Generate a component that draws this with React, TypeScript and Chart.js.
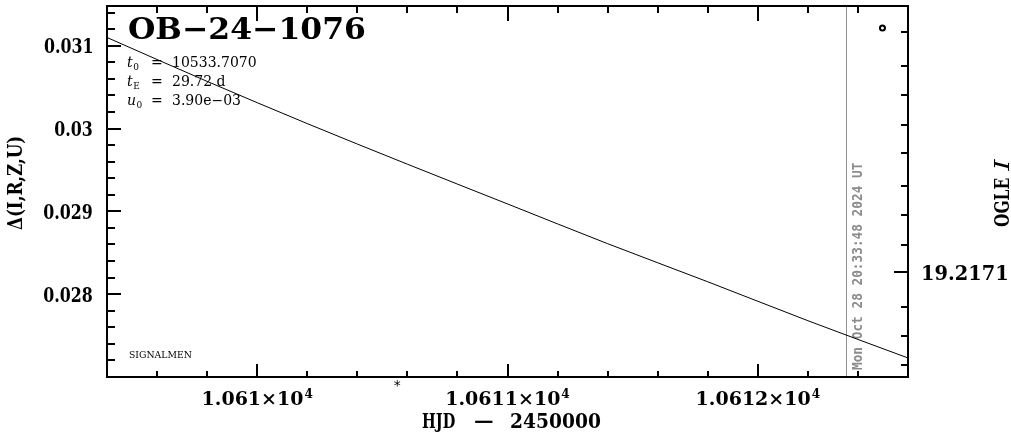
import React, { useEffect, useRef } from "react";
import { Chart, registerables } from "chart.js";

Chart.register(...registerables);

// ---- data ----
const titleText = "OB−24−1076";
const paramSymbols = ["t", "t", "u"];
const paramSubs = ["0", "E", "0"];
const paramValues = ["10533.7070", "29.72 d", "3.90e−03"];
const footerText = "SIGNALMEN";

const modelHJD = [10609.4, 10609.8, 10610.2, 10610.6, 10611.0, 10611.4, 10611.8, 10612.2, 10612.6];
const modelDelta = [0.0311, 0.03057, 0.03006, 0.02957, 0.02909, 0.02861, 0.02815, 0.02768, 0.02723];

const obsHJD = [10612.498];
const obsDelta = [0.031214];

const nowHJD = 10612.354;
const nowLabel = "Mon Oct 28 20:33:48 2024 UT";
const starHJD = [10610.56];

const xMin = 10609.4;
const xMax = 10612.6;
const yMin = 0.027;
const yMax = 0.03148;
const y2Min = 19.2138819;
const y2Max = 19.2183619;

const xTickValues = [10610, 10611, 10612];
const xTickLabels = ["1.061×10", "1.0611×10", "1.0612×10"];
const xTickExponent = "4";
const yTickValues = [0.028, 0.029, 0.03, 0.031];
const yTickLabels = ["0.028", "0.029", "0.03", "0.031"];
const rightTickValues = [
  19.214195, 19.214612, 19.214957, 19.215314, 19.21566, 19.216052,
  19.21641, 19.216767, 19.2171, 19.217517, 19.217862, 19.218219,
];
const rightMajorValue = 19.2171;
const rightMajorLabel = "19.2171";
const xAxisTitleParts = ["HJD", "−", "2450000"];
const yAxisTitle = "Δ(I,R,Z,U)";
const rightAxisTitleParts = ["OGLE", "I"];

const SERIF = "'DejaVu Serif', serif";

type InkOpts = {
  x: number;
  y: number;
  w?: number;
  sx?: number;
  align?: "left" | "center" | "right";
  rot?: number;
  color?: string;
};

function inkScale(ctx: CanvasRenderingContext2D, text: string, font: string, w: number) {
  ctx.save();
  ctx.font = font;
  ctx.textAlign = "left";
  const m = ctx.measureText(text);
  ctx.restore();
  const inkW = m.actualBoundingBoxRight + m.actualBoundingBoxLeft;
  return w / inkW;
}

function drawInk(ctx: CanvasRenderingContext2D, text: string, font: string, o: InkOpts) {
  ctx.save();
  ctx.font = font;
  ctx.textAlign = "left";
  ctx.textBaseline = "alphabetic";
  const m = ctx.measureText(text);
  const l = -m.actualBoundingBoxLeft;
  const r = m.actualBoundingBoxRight;
  const inkW = r - l;
  const sx = o.sx ?? (o.w ? o.w / inkW : 1);
  const W = inkW * sx;
  const align = o.align ?? "left";
  const start = align === "left" ? 0 : align === "center" ? -W / 2 : -W;
  ctx.translate(o.x, o.y);
  if (o.rot) ctx.rotate(o.rot);
  ctx.scale(sx, 1);
  ctx.fillStyle = o.color ?? "#000";
  ctx.fillText(text, start / sx - l, 0);
  ctx.restore();
}

const pgplotPlugin = {
  id: "pgplot",
  beforeDatasetsDraw(chart: any) {
    const ctx: CanvasRenderingContext2D = chart.ctx;
    const { top, bottom } = chart.chartArea;
    const xs = chart.scales.x;
    const px = Math.round(xs.getPixelForValue(nowHJD)) + 0.5;
    ctx.save();
    ctx.strokeStyle = "#909090";
    ctx.lineWidth = 1;
    ctx.beginPath();
    ctx.moveTo(px, top);
    ctx.lineTo(px, bottom);
    ctx.stroke();
    ctx.restore();
    drawInk(ctx, nowLabel, "bold 14px 'DejaVu Sans Mono', monospace", {
      x: px + 15,
      y: 370,
      w: 207,
      align: "left",
      rot: -Math.PI / 2,
      color: "#8c8c8c",
    });
  },
  afterDraw(chart: any) {
    const ctx: CanvasRenderingContext2D = chart.ctx;
    const { left, right, top, bottom } = chart.chartArea;
    const xs = chart.scales.x;
    const ys = chart.scales.y;
    const y2 = chart.scales.y2;

    ctx.save();
    ctx.strokeStyle = "#000";
    ctx.lineWidth = 2;
    ctx.lineCap = "butt";
    ctx.strokeRect(left, top, right - left, bottom - top);

    // x ticks (top & bottom)
    ctx.beginPath();
    for (let k = 53047; k <= 53063; k++) {
      const v = k * 0.2;
      const major = k % 5 === 0;
      const p = Math.round(xs.getPixelForValue(v));
      ctx.moveTo(p, bottom);
      ctx.lineTo(p, bottom - (major ? 13 : 6));
      ctx.moveTo(p, top);
      ctx.lineTo(p, top + (major ? 15 : 7));
    }
    // left ticks
    for (let k = 136; k <= 157; k++) {
      const v = k * 0.0002;
      const major = k % 5 === 0;
      const p = Math.round(ys.getPixelForValue(v));
      ctx.moveTo(left, p);
      ctx.lineTo(left + (major ? 14 : 8), p);
    }
    // right ticks
    rightTickValues.forEach((v) => {
      const p = Math.round(y2.getPixelForValue(v));
      const major = Math.abs(v - rightMajorValue) < 1e-7;
      ctx.moveTo(right, p);
      ctx.lineTo(right - (major ? 14 : 7), p);
    });
    ctx.stroke();
    ctx.restore();

    // left tick labels
    const lf = `bold 20px ${SERIF}`;
    const lsx = inkScale(ctx, "0.031", lf, 48);
    yTickValues.forEach((v, i) => {
      const p = ys.getPixelForValue(v);
      drawInk(ctx, yTickLabels[i], lf, { x: 92, y: p + 7.5, sx: lsx, align: "right" });
    });

    // bottom tick labels
    ctx.save();
    ctx.fillStyle = "#000";
    ctx.textAlign = "left";
    ctx.textBaseline = "alphabetic";
    xTickValues.forEach((v, i) => {
      const p = xs.getPixelForValue(v);
      ctx.font = `bold 19px ${SERIF}`;
      const mW = ctx.measureText(xTickLabels[i]).width;
      ctx.font = `bold 12px ${SERIF}`;
      const sW = ctx.measureText(xTickExponent).width;
      const start = p - (mW + sW + 1) / 2;
      ctx.font = `bold 19px ${SERIF}`;
      ctx.fillText(xTickLabels[i], start, 405);
      ctx.font = `bold 12px ${SERIF}`;
      ctx.fillText(xTickExponent, start + mW + 1, 398);
    });
    ctx.restore();

    // star marker below axis
    ctx.save();
    ctx.font = "14px 'DejaVu Sans', sans-serif";
    const sm = ctx.measureText("*");
    starHJD.forEach((v) => {
      const p = xs.getPixelForValue(v);
      ctx.fillStyle = "#000";
      ctx.textAlign = "center";
      ctx.fillText("*", p, 383 + (sm.actualBoundingBoxAscent - sm.actualBoundingBoxDescent) / 2);
    });
    ctx.restore();

    // axis titles
    const af = `bold 20px ${SERIF}`;
    drawInk(ctx, xAxisTitleParts[0], af, { x: 422, y: 428, w: 33 });
    drawInk(ctx, xAxisTitleParts[1], af, { x: 484, y: 428, w: 18, align: "center" });
    drawInk(ctx, xAxisTitleParts[2], af, { x: 511, y: 428, w: 89 });
    drawInk(ctx, yAxisTitle, af, { x: 22, y: 183.5, w: 93, align: "center", rot: -Math.PI / 2 });
    drawInk(ctx, rightAxisTitleParts[0], af, { x: 1009, y: 227, w: 49, align: "left", rot: -Math.PI / 2 });
    drawInk(ctx, rightAxisTitleParts[1], `italic 20px ${SERIF}`, {
      x: 1009,
      y: 172,
      w: 14,
      align: "left",
      rot: -Math.PI / 2,
    });
    // right label
    const rp = y2.getPixelForValue(rightMajorValue);
    drawInk(ctx, rightMajorLabel, af, { x: 923, y: rp + 7.5, w: 84 });

    // title + parameters
    drawInk(ctx, titleText, `bold 30px ${SERIF}`, { x: 129, y: 39, w: 236 });
    const baselines = [67, 86, 105];
    ctx.save();
    ctx.fillStyle = "#000";
    ctx.textBaseline = "alphabetic";
    ctx.textAlign = "left";
    paramSymbols.forEach((s, i) => {
      const b = baselines[i];
      ctx.font = `italic 14px ${SERIF}`;
      ctx.fillText(s, 127, b);
      const sw = ctx.measureText(s).width;
      ctx.font = `9px ${SERIF}`;
      ctx.fillText(paramSubs[i], 127 + sw + 0.5, b + 3);
      ctx.font = `14px ${SERIF}`;
      ctx.fillText("=", 151, b);
      ctx.fillText(paramValues[i], 172, b);
    });
    ctx.restore();
    drawInk(ctx, footerText, `9px ${SERIF}`, { x: 129, y: 358, w: 63 });
  },
};

export default function App() {
  const ref = useRef<HTMLCanvasElement | null>(null);
  useEffect(() => {
    if (!ref.current) return;
    const chart = new Chart(ref.current, {
      type: "scatter",
      data: {
        datasets: [
          {
            data: modelHJD.map((x, i) => ({ x, y: modelDelta[i] })),
            showLine: true,
            borderColor: "#000",
            borderWidth: 1,
            pointRadius: 0,
            cubicInterpolationMode: "monotone",
            yAxisID: "y",
          },
          {
            data: obsHJD.map((x, i) => ({ x, y: obsDelta[i] })),
            showLine: false,
            pointRadius: 2.5,
            pointBorderWidth: 2,
            pointBackgroundColor: "#fff",
            pointBorderColor: "#000",
            yAxisID: "y",
          },
        ],
      },
      options: {
        animation: false,
        responsive: false,
        events: [],
        layout: { padding: { left: 107, right: 103, top: 1, bottom: 57 } },
        plugins: { legend: { display: false }, tooltip: { enabled: false } },
        scales: {
          x: { type: "linear", min: xMin, max: xMax, display: false },
          y: { type: "linear", min: yMin, max: yMax, display: false },
          y2: { type: "linear", min: y2Min, max: y2Max, reverse: true, display: false, position: "right" },
        },
      },
      plugins: [pgplotPlugin],
    } as any);
    return () => chart.destroy();
  }, []);
  return (
    <div style={{ position: "fixed", left: 0, top: 0, width: 1011, height: 434, background: "#fff" }}>
      <canvas ref={ref} width={1011} height={434} style={{ display: "block" }} />
    </div>
  );
}
